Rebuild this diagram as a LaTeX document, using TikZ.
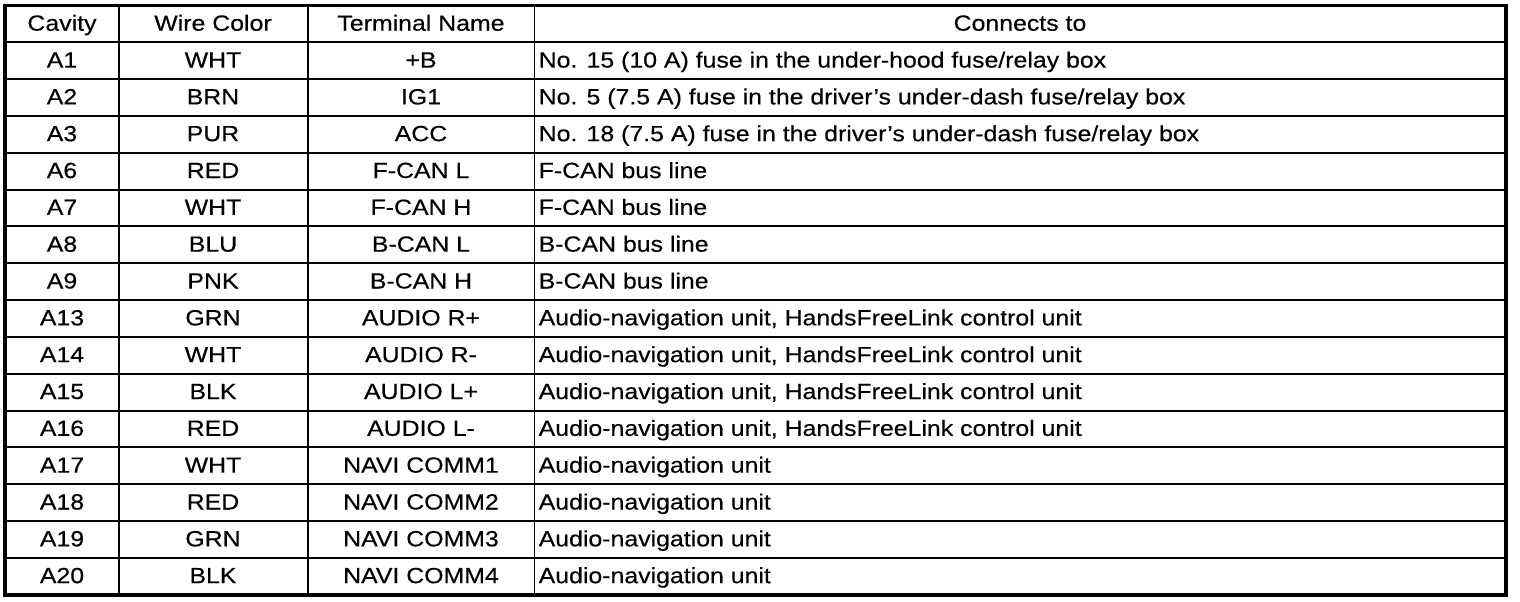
\documentclass[tikz,border=0pt]{standalone}
\usepackage{fontspec}
\setmainfont{Liberation Sans}[FakeStretch=1.13,FakeBold=0.35]
\newcommand{\rowtop}{5.5}
\newcommand{\rowh}{36.83}
\tikzset{
  cell/.style={anchor=base, inner sep=0pt, font=\fontsize{22}{24}\selectfont},
  leftcell/.style={cell, anchor=base west},
  outerline/.style={line width=3.6pt},
  gridline/.style={line width=2pt},
  thinline/.style={line width=1.4pt}
}
\newcommand{\tabrow}[5]{%
  \pgfmathsetmacro{\yb}{\rowtop+\rowh*(#1+0.5)+6.8}%
  \node[cell] (cav#1) at (62,\yb) {#2};
  \node[cell] (wc#1) at (213,\yb) {#3};
  \node[cell] (tn#1) at (421,\yb) {#4};
  \node[leftcell] (ct#1) at (538.5,\yb) {#5};
}
\begin{document}
\begin{tikzpicture}[x=1pt,y=-1pt]
\useasboundingbox (0,0) rectangle (1520,602);
% grid
\foreach \i in {1,...,15}{
  \draw[gridline] (5,{\rowtop+\rowh*\i}) -- (1506,{\rowtop+\rowh*\i});
}
\draw[gridline] (119,5.5) -- (119,594.7);
\draw[gridline] (307.7,5.5) -- (307.7,594.7);
\draw[thinline] (534.6,5.5) -- (534.6,594.7);
\draw[outerline] (5,5.5) rectangle (1506,594.7);
% header
\pgfmathsetmacro{\yh}{\rowtop+\rowh*0.5+6.8}
\node[cell] (hcav) at (62,\yh) {Cavity};
\node[cell] (hwc) at (213,\yh) {Wire Color};
\node[cell] (htn) at (421,\yh) {Terminal Name};
\node[cell] (hct) at (1020,\yh) {Connects to};
% rows
\tabrow{1}{A1}{WHT}{+B}{No. 15 (10 A) fuse in the under-hood fuse/relay box}
\tabrow{2}{A2}{BRN}{IG1}{No. 5 (7.5 A) fuse in the driver’s under-dash fuse/relay box}
\tabrow{3}{A3}{PUR}{ACC}{No. 18 (7.5 A) fuse in the driver’s under-dash fuse/relay box}
\tabrow{4}{A6}{RED}{F-CAN L}{F-CAN bus line}
\tabrow{5}{A7}{WHT}{F-CAN H}{F-CAN bus line}
\tabrow{6}{A8}{BLU}{B-CAN L}{B-CAN bus line}
\tabrow{7}{A9}{PNK}{B-CAN H}{B-CAN bus line}
\tabrow{8}{A13}{GRN}{AUDIO R+}{Audio-navigation unit, HandsFreeLink control unit}
\tabrow{9}{A14}{WHT}{AUDIO R-}{Audio-navigation unit, HandsFreeLink control unit}
\tabrow{10}{A15}{BLK}{AUDIO L+}{Audio-navigation unit, HandsFreeLink control unit}
\tabrow{11}{A16}{RED}{AUDIO L-}{Audio-navigation unit, HandsFreeLink control unit}
\tabrow{12}{A17}{WHT}{NAVI COMM1}{Audio-navigation unit}
\tabrow{13}{A18}{RED}{NAVI COMM2}{Audio-navigation unit}
\tabrow{14}{A19}{GRN}{NAVI COMM3}{Audio-navigation unit}
\tabrow{15}{A20}{BLK}{NAVI COMM4}{Audio-navigation unit}
\end{tikzpicture}
\end{document}
